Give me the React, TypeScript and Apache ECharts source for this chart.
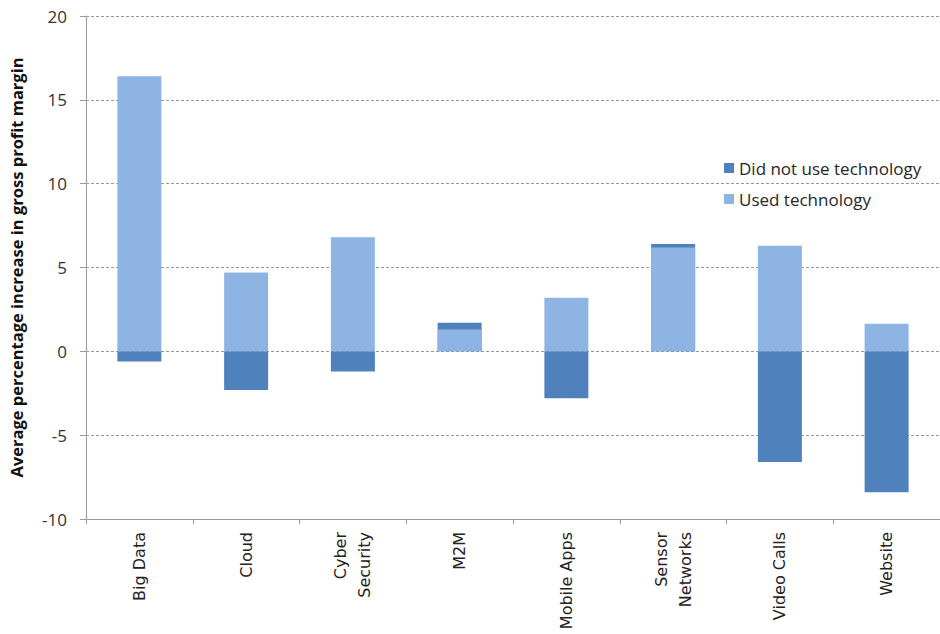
import React, { useEffect, useRef } from "react";
import * as echarts from "echarts";

const categories = [
  "Big Data",
  "Cloud",
  "Cyber\nSecurity",
  "M2M",
  "Mobile Apps",
  "Sensor\nNetworks",
  "Video Calls",
  "Website",
];
const didNotUse = [-0.6, -2.3, -1.2, 1.7, -2.8, 6.4, -6.6, -8.4];
const usedTech = [16.4, 4.7, 6.8, 1.3, 3.2, 6.2, 6.3, 1.65];
const seriesNames = ["Did not use technology", "Used technology"];
const yTitle = "Average percentage increase in gross profit margin";

export default function App() {
  const ref = useRef<HTMLDivElement>(null);
  useEffect(() => {
    if (!ref.current) return;
    const chart = echarts.init(ref.current, undefined, { renderer: "svg" });
    const font = "'Open Sans', 'Noto Sans', sans-serif";
    chart.setOption({
      animation: false,
      textStyle: { fontFamily: font },
      grid: { left: 78, right: -4, top: 16, bottom: 115, containLabel: false },
      legend: {
        orient: "vertical",
        left: 719,
        top: 154,
        itemWidth: 10,
        itemHeight: 10,
        itemGap: 13,
        icon: "rect",
        data: seriesNames,
        textStyle: { fontSize: 17, lineHeight: 18, color: "#262626", fontFamily: font },
      },
      xAxis: {
        type: "category",
        data: categories,
        axisLine: { onZero: false, lineStyle: { color: "#999", width: 1 } },
        axisTick: { show: true, length: 5, lineStyle: { color: "#999" } },
        axisLabel: {
          rotate: 90,
          interval: 0,
          margin: 13,
          fontSize: 16,
          lineHeight: 24,
          color: "#222",
          fontFamily: "'DejaVu Sans', sans-serif",
        },
      },
      yAxis: {
        type: "value",
        min: -10,
        max: 20,
        interval: 5,
        name: yTitle,
        nameLocation: "middle",
        nameGap: 61,
        nameTextStyle: { fontSize: 16.5, fontWeight: "bold", color: "#111", fontFamily: font },
        axisLine: { show: true, lineStyle: { color: "#999" } },
        axisTick: { show: true, length: 6, lineStyle: { color: "#999" } },
        axisLabel: { fontSize: 17, color: "#333", margin: 19, fontFamily: font },
        splitLine: { show: true, lineStyle: { type: [3, 2], color: "#999", width: 1 } },
      },
      series: [
        {
          name: seriesNames[0],
          type: "bar",
          data: didNotUse,
          barWidth: 44,
          barGap: "-100%",
          itemStyle: { color: "#4F81BD" },
        },
        {
          name: seriesNames[1],
          type: "bar",
          data: usedTech,
          barWidth: 44,
          barGap: "-100%",
          itemStyle: { color: "#8EB4E3" },
        },
      ],
    });
    return () => chart.dispose();
  }, []);
  return (
    <div
      ref={ref}
      style={{ position: "fixed", left: 0, top: 0, width: 940, height: 634, background: "#fff" }}
    />
  );
}
